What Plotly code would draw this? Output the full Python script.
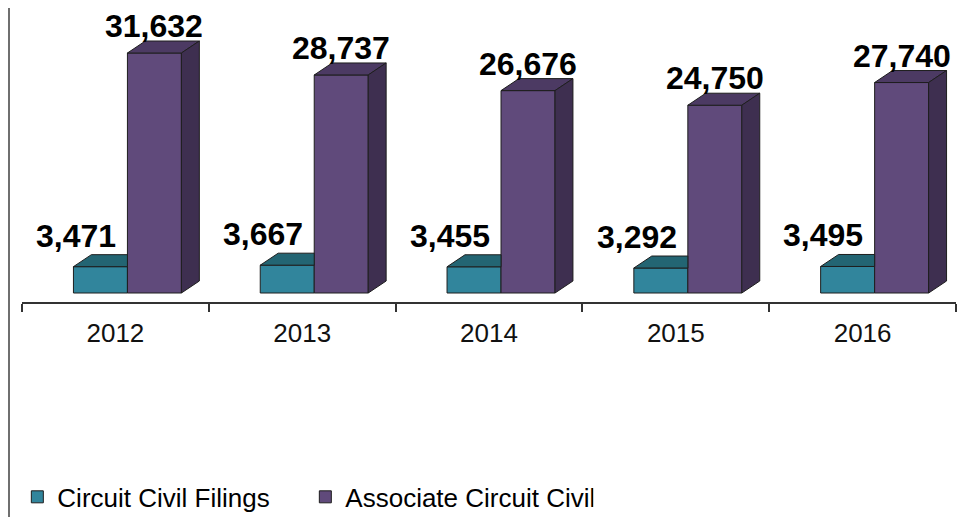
import plotly.graph_objects as go

years = ["2012", "2013", "2014", "2015", "2016"]
circuit_civil = [3471, 3667, 3455, 3292, 3495]
associate_civil = [31632, 28737, 26676, 24750, 27740]
series_names = ["Circuit Civil Filings", "Associate Circuit Civil"]

# style / geometry
TEAL = "#31859C"
TEAL_TOP = "#236573"
PURP = "#604A7B"
PURP_TOP = "#4C3A63"
PURP_SIDE = "#3E2F50"
EDGE = "#1E1E1E"
FONT = "Liberation Sans, Arial, sans-serif"

W = 0.289          # bar width in category units
OFF_T = -0.2246    # teal offset from category centre
OFF_P = OFF_T + W  # purple offset
DX = 0.096         # depth in x (category units)
DY = 1582          # depth in y (value units)

xs = list(range(len(years)))

fig = go.Figure()

fig.add_trace(go.Bar(
    x=xs, y=circuit_civil, name=series_names[0], width=W, offset=OFF_T,
    marker=dict(color=TEAL, line=dict(color=EDGE, width=1)), hoverinfo="skip"))
fig.add_trace(go.Bar(
    x=xs, y=associate_civil, name=series_names[1], width=W, offset=OFF_P,
    marker=dict(color=PURP, line=dict(color=EDGE, width=1)), hoverinfo="skip"))

# 3D faces derived from the data
def poly_trace(pts_list, color):
    px, py = [], []
    for pts in pts_list:
        for (a, b) in pts:
            px.append(a)
            py.append(b)
        px.append(pts[0][0]); py.append(pts[0][1])
        px.append(None); py.append(None)
    return go.Scatter(x=px, y=py, mode="lines", fill="toself", fillcolor=color,
                      line=dict(color=EDGE, width=1), hoverinfo="skip",
                      showlegend=False)

teal_tops = []
purp_tops = []
purp_sides = []
for i, (vt, vp) in enumerate(zip(circuit_civil, associate_civil)):
    xl = i + OFF_T
    xr = xl + W
    teal_tops.append([(xl, vt), (xl + DX, vt + DY), (xr, vt + DY), (xr, vt)])
    pl = i + OFF_P
    pr = pl + W
    purp_tops.append([(pl, vp), (pl + DX, vp + DY), (pr + DX, vp + DY), (pr, vp)])
    purp_sides.append([(pr, 0), (pr + DX, DY), (pr + DX, vp + DY), (pr, vp)])

fig.add_trace(poly_trace(teal_tops, TEAL_TOP))
fig.add_trace(poly_trace(purp_tops, PURP_TOP))
fig.add_trace(poly_trace(purp_sides, PURP_SIDE))

# data labels
for i, (vt, vp) in enumerate(zip(circuit_civil, associate_civil)):
    fig.add_annotation(x=i + OFF_P + W / 2, y=vp, yshift=27, text=f"<b>{vp:,}</b>",
                       showarrow=False, yanchor="middle", xanchor="center",
                       font=dict(family=FONT, size=32, color="#000000"))
    fig.add_annotation(x=i - 0.21, y=vt, yshift=31, text=f"<b>{vt:,}</b>",
                       showarrow=False, yanchor="middle", xanchor="center",
                       font=dict(family=FONT, size=32, color="#000000"))

# left border decoration
fig.add_shape(type="line", xref="paper", yref="paper", x0=-13 / 934, x1=-13 / 934,
              y0=-215 / 294, y1=1, line=dict(color="#6F6F6F", width=2))

fig.update_layout(
    width=960, height=509,
    margin=dict(l=14, r=12, t=0, b=215, autoexpand=False),
    paper_bgcolor="white", plot_bgcolor="white",
    barmode="overlay",
    showlegend=True,
    legend=dict(orientation="h", x=-0.005, xanchor="left", y=-0.663, yanchor="middle",
                font=dict(family=FONT, size=26, color="#000000"),
                itemwidth=30, entrywidth=243, entrywidthmode="pixels",
                tracegroupgap=0, bgcolor="rgba(0,0,0,0)"),
    xaxis=dict(range=[-0.5, len(years) - 0.5], tickvals=xs, ticktext=years,
               ticks="outside", ticklen=7, tickcolor="rgba(0,0,0,0)",
               tickfont=dict(family=FONT, size=26, color="#111111"),
               showline=True, linecolor="#333333", linewidth=2,
               showgrid=False, zeroline=False, fixedrange=True,
               minor=dict(tickvals=[k - 0.5 for k in range(len(years) + 1)],
                          ticks="outside", ticklen=8, tickcolor="#333333",
                          tickwidth=1.5, showgrid=False)),
    yaxis=dict(range=[-1186, 37563], visible=False, showgrid=False,
               zeroline=False, fixedrange=True),
)

fig.write_html("out.html")
